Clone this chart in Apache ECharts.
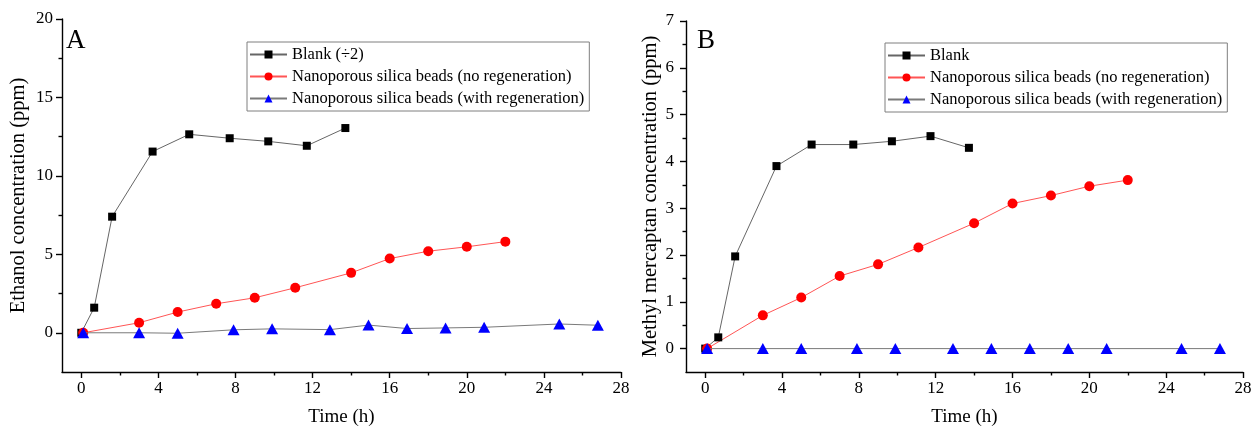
<!DOCTYPE html>
<html>
<head>
<meta charset="utf-8">
<script src="https://cdn.jsdelivr.net/npm/echarts@6/dist/echarts.min.js"></script>
<style>html,body{margin:0;padding:0;background:#fff}#c{width:1255px;height:432px}</style>
</head>
<body>
<div id="c"></div>
<script>
// ---- Data ----
const blankA_t = [0, 0.67, 1.6, 3.7, 5.6, 7.7, 9.7, 11.7, 13.7];
const blankA_v = [0, 1.6, 7.4, 11.55, 12.65, 12.4, 12.2, 11.92, 13.05];
const noRegenA_t = [0.1, 3, 5, 7, 9, 11.1, 14, 16, 18, 20, 22];
const noRegenA_v = [0, 0.64, 1.32, 1.85, 2.23, 2.87, 3.82, 4.73, 5.2, 5.48, 5.81];
const withRegenA_t = [0.1, 3, 5, 7.9, 9.9, 12.9, 14.9, 16.9, 18.9, 20.9, 24.8, 26.8];
const withRegenA_v = [0, 0, -0.03, 0.19, 0.25, 0.2, 0.49, 0.27, 0.31, 0.35, 0.56, 0.48];

const blankB_t = [0, 0.68, 1.56, 3.71, 5.54, 7.71, 9.72, 11.73, 13.73];
const blankB_v = [0, 0.24, 1.97, 3.9, 4.36, 4.36, 4.43, 4.54, 4.29];
const noRegenB_t = [0.1, 3, 5, 7, 9, 11.1, 14, 16, 18, 20, 22];
const noRegenB_v = [0, 0.71, 1.09, 1.55, 1.8, 2.16, 2.68, 3.1, 3.27, 3.47, 3.6];
const withRegenB_t = [0.1, 3, 5, 7.9, 9.9, 12.9, 14.9, 16.9, 18.9, 20.9, 24.8, 26.8];
const withRegenB_v = [0, 0, 0, 0, 0, 0, 0, 0, 0, 0, 0, 0];

const xMajorTicks = [0, 4, 8, 12, 16, 20, 24, 28];
const xMinorTicks = [2, 6, 10, 14, 18, 22, 26];
const yMajorTicksA = [0, 5, 10, 15, 20];
const yMinorTicksA = [2.5, 7.5, 12.5, 17.5];
const yMajorTicksB = [0, 1, 2, 3, 4, 5, 6, 7];
const yMinorTicksB = [0.5, 1.5, 2.5, 3.5, 4.5, 5.5, 6.5];

const nameBlankA = 'Blank (\u00F72)';
const nameBlankB = 'Blank';
const nameNo = 'Nanoporous silica beads (no regeneration)';
const nameWith = 'Nanoporous silica beads (with regeneration)';

// ---- Build ----
const zip = (t, v) => t.map((x, i) => [x, v[i]]);
const FONT = 'Liberation Serif';
const X_MIN = -1, X_MAX = 28;
const Y_MIN_A = -2.5, Y_MAX_A = 20, Y_MIN_B = -0.5, Y_MAX_B = 7;
const ls = () => ({ color: '#000', width: 1.4 });

// Per grid, axes are: [main, minor-tick, anchor]. The hidden anchor axis (0..1)
// has its zero at the grid edge, so the other axes sit on the edge via onZero.
function xAxes(grid) {
  const anchorY = grid * 3 + 2;
  return [
    { gridIndex: grid, type: 'value', min: X_MIN, max: X_MAX, position: 'bottom',
      name: 'Time (h)', nameLocation: 'middle', nameGap: 36,
      nameTextStyle: { fontFamily: FONT, fontSize: 19, color: '#000' },
      axisLine: { show: true, onZero: true, onZeroAxisIndex: anchorY, lineStyle: ls() },
      axisTick: { show: true, customValues: xMajorTicks, length: 6, lineStyle: ls() },
      axisLabel: { show: true, customValues: xMajorTicks, margin: 8, fontFamily: FONT, fontSize: 17, color: '#000' },
      splitLine: { show: false } },
    { gridIndex: grid, type: 'value', min: X_MIN, max: X_MAX, position: 'bottom',
      axisLine: { show: false, onZero: true, onZeroAxisIndex: anchorY },
      axisTick: { show: true, customValues: xMinorTicks, length: 3.5, lineStyle: ls() },
      axisLabel: { show: false }, splitLine: { show: false } },
    { gridIndex: grid, type: 'value', min: 0, max: 1, show: false, position: 'top' }
  ];
}
function yAxes(grid, min, max, major, minor, name, gap, margin) {
  const anchorX = grid * 3 + 2;
  return [
    { gridIndex: grid, type: 'value', min: min, max: max, position: 'left',
      name: name, nameLocation: 'middle', nameGap: gap,
      nameTextStyle: { fontFamily: FONT, fontSize: 20.5, color: '#000' },
      axisLine: { show: true, onZero: true, onZeroAxisIndex: anchorX, lineStyle: ls() },
      axisTick: { show: true, customValues: major, length: 6, lineStyle: ls() },
      axisLabel: { show: true, customValues: major, margin: margin, fontFamily: FONT, fontSize: 17, color: '#000' },
      splitLine: { show: false } },
    { gridIndex: grid, type: 'value', min: min, max: max, position: 'left',
      axisLine: { show: false, onZero: true, onZeroAxisIndex: anchorX },
      axisTick: { show: true, customValues: minor, length: 3.5, lineStyle: ls() },
      axisLabel: { show: false }, splitLine: { show: false } },
    { gridIndex: grid, type: 'value', min: 0, max: 1, show: false, position: 'right' }
  ];
}

function series(name, data, xi, yi, kind) {
  const styles = {
    blank: { symbol: 'rect', symbolSize: 8, color: '#000', line: '#666666' },
    no: { symbol: 'circle', symbolSize: 10, color: '#ff0000', line: '#ff5555' },
    with: { symbol: 'triangle', symbolSize: [12, 11], color: '#0000ff', line: '#7a7a7a' }
  }[kind];
  return {
    type: 'line', name: name, data: data, xAxisIndex: xi, yAxisIndex: yi,
    symbol: styles.symbol, symbolSize: styles.symbolSize, showSymbol: true,
    itemStyle: { color: styles.color, borderWidth: 0 },
    lineStyle: { color: styles.line, width: 1 },
    animation: false, silent: true, z: kind === 'with' ? 3 : 2
  };
}

const legendBase = {
  orient: 'vertical', borderColor: '#7f7f7f', borderWidth: 1,
  padding: [4, 5, 4, 2], itemGap: 5, itemWidth: 37, itemHeight: 10,
  textStyle: { fontFamily: FONT, fontSize: 16.5, color: '#000' },
  selectedMode: false
};

const option = {
  animation: false,
  backgroundColor: '#fff',
  title: [
    { text: 'A', left: 66, top: 27, padding: 0, textStyle: { fontFamily: FONT, fontSize: 27, fontWeight: 'normal', color: '#000' } },
    { text: 'B', left: 697, top: 27, padding: 0, textStyle: { fontFamily: FONT, fontSize: 27, fontWeight: 'normal', color: '#000' } }
  ],
  legend: [
    Object.assign({}, legendBase, { left: 247, top: 42, data: [nameBlankA, nameNo, nameWith] }),
    Object.assign({}, legendBase, { left: 885, top: 43, data: [nameBlankB, nameNo, nameWith] })
  ],
  grid: [
    { left: 62, top: 19, width: 559, height: 354 },
    { left: 686, top: 21, width: 557, height: 352 }
  ],
  xAxis: xAxes(0).concat(xAxes(1)),
  yAxis: yAxes(0, Y_MIN_A, Y_MAX_A, yMajorTicksA, yMinorTicksA, 'Ethanol concentration (ppm)', 33, 9)
    .concat(yAxes(1, Y_MIN_B, Y_MAX_B, yMajorTicksB, yMinorTicksB, 'Methyl mercaptan concentration (ppm)', 24, 12)),
  series: [
    series(nameBlankA, zip(blankA_t, blankA_v), 0, 0, 'blank'),
    series(nameNo, zip(noRegenA_t, noRegenA_v), 0, 0, 'no'),
    series(nameWith, zip(withRegenA_t, withRegenA_v), 0, 0, 'with'),
    series(nameBlankB, zip(blankB_t, blankB_v), 3, 3, 'blank'),
    series(nameNo, zip(noRegenB_t, noRegenB_v), 3, 3, 'no'),
    series(nameWith, zip(withRegenB_t, withRegenB_v), 3, 3, 'with')
  ]
};

const chart = echarts.init(document.getElementById('c'));
chart.setOption(option);
</script>
</body>
</html>
